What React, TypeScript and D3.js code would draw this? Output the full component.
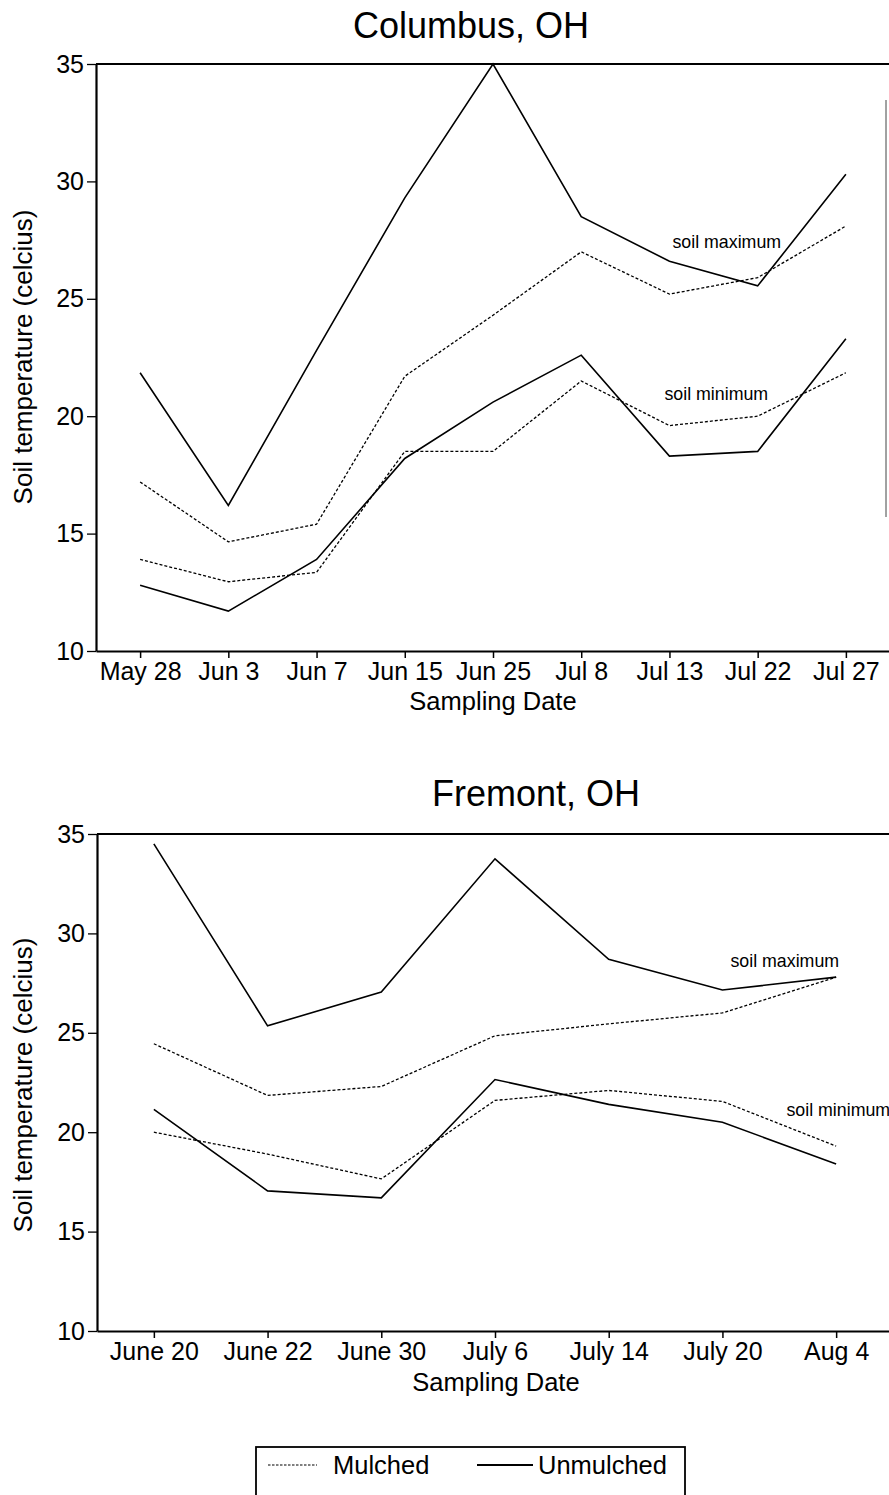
import React, { useEffect, useRef } from 'react';
import * as d3 from 'd3';

const FONT = '"Liberation Sans", Arial, Helvetica, sans-serif';

// Columbus, OH
const columbusDates = ['May 28', 'Jun 3', 'Jun 7', 'Jun 15', 'Jun 25', 'Jul 8', 'Jul 13', 'Jul 22', 'Jul 27'];
const columbusMulchedMax = [17.2, 14.65, 15.4, 21.7, 24.3, 27.0, 25.2, 25.9, 28.1];
const columbusUnmulchedMax = [21.85, 16.2, 22.8, 29.3, 35.0, 28.5, 26.6, 25.55, 30.3];
const columbusMulchedMin = [13.9, 12.95, 13.35, 18.5, 18.5, 21.5, 19.6, 20.0, 21.85];
const columbusUnmulchedMin = [12.8, 11.7, 13.9, 18.2, 20.6, 22.6, 18.3, 18.5, 23.3];

// Fremont, OH
const fremontDates = ['June 20', 'June 22', 'June 30', 'July 6', 'July 14', 'July 20', 'Aug 4'];
const fremontMulchedMax = [24.45, 21.85, 22.3, 24.85, 25.45, 26.0, 27.8];
const fremontUnmulchedMax = [34.5, 25.35, 27.05, 33.75, 28.7, 27.15, 27.8];
const fremontMulchedMin = [20.0, 18.9, 17.65, 21.6, 22.1, 21.55, 19.3];
const fremontUnmulchedMin = [21.15, 17.05, 16.7, 22.65, 21.4, 20.5, 18.4];

const yTicks = [10, 15, 20, 25, 30, 35];
const yDomain = [10, 35];
const legendLabels = ['Mulched', 'Unmulched'];

type Panel = {
  title: string;
  titleX: number;
  titleY: number;
  dates: string[];
  mulched: number[][];
  unmulched: number[][];
  left: number;
  right: number;
  top: number;
  bottom: number;
  xTitleX: number;
  xTitleY: number;
  yTitleY: number;
  tickPad: number;
  maxLabel: { date: string; dx: number; v: number };
  minLabel: { date: string; dx: number; v: number };
};

const panels: Panel[] = [
  {
    title: 'Columbus, OH', titleX: 471, titleY: 38,
    dates: columbusDates,
    mulched: [columbusMulchedMax, columbusMulchedMin],
    unmulched: [columbusUnmulchedMax, columbusUnmulchedMin],
    left: 96, right: 890, top: 64, bottom: 651,
    xTitleX: 493, xTitleY: 710, yTitleY: 357, tickPad: 4,
    maxLabel: { date: 'Jul 13', dx: 3, v: 27.16 },
    minLabel: { date: 'Jul 13', dx: -5, v: 20.69 },
  },
  {
    title: 'Fremont, OH', titleX: 536, titleY: 806,
    dates: fremontDates,
    mulched: [fremontMulchedMax, fremontMulchedMin],
    unmulched: [fremontUnmulchedMax, fremontUnmulchedMin],
    left: 97, right: 893, top: 834, bottom: 1331,
    xTitleX: 496, xTitleY: 1391, yTitleY: 1085, tickPad: 4,
    maxLabel: { date: 'July 20', dx: 8, v: 28.31 },
    minLabel: { date: 'July 20', dx: 64, v: 20.81 },
  },
];

function drawPanel(svg: d3.Selection<SVGSVGElement, unknown, null, undefined>, p: Panel) {
  const x = d3.scalePoint<string>().domain(p.dates).range([p.left, p.right]).padding(0.5);
  const y = d3.scaleLinear().domain(yDomain).range([p.bottom, p.top]);
  const g = svg.append('g');

  // title
  g.append('text')
    .attr('x', p.titleX).attr('y', p.titleY)
    .attr('text-anchor', 'middle')
    .attr('font-family', FONT).attr('font-size', 36)
    .text(p.title);

  // top frame line
  g.append('line')
    .attr('x1', p.left).attr('x2', 889)
    .attr('y1', p.top).attr('y2', p.top)
    .attr('stroke', '#000').attr('stroke-width', 2);

  // y axis
  const ya = g.append('g')
    .attr('transform', `translate(${p.left},0)`)
    .call(d3.axisLeft(y).tickValues(yTicks).tickSize(9).tickSizeOuter(0).tickPadding(3).tickFormat(d3.format('d')));
  ya.attr('font-family', FONT).attr('font-size', 25);
  ya.select('.domain').attr('stroke-width', 2.2);
  ya.selectAll('.tick line').attr('stroke-width', 1.3);

  // x axis
  const xa = g.append('g')
    .attr('transform', `translate(0,${p.bottom})`)
    .call(d3.axisBottom(x).tickSize(7).tickSizeOuter(0).tickPadding(p.tickPad));
  xa.attr('font-family', FONT).attr('font-size', 25);
  xa.select('.domain').attr('stroke-width', 2.2);
  xa.selectAll('.tick line').attr('stroke-width', 1.5);

  // axis titles
  g.append('text')
    .attr('x', p.xTitleX).attr('y', p.xTitleY)
    .attr('text-anchor', 'middle')
    .attr('font-family', FONT).attr('font-size', 25.5)
    .text('Sampling Date');
  g.append('text')
    .attr('transform', `translate(32,${p.yTitleY}) rotate(-90)`)
    .attr('text-anchor', 'middle')
    .attr('font-family', FONT).attr('font-size', 26)
    .text('Soil temperature (celcius)');

  const line = d3.line<number>()
    .x((_, i) => x(p.dates[i]) as number)
    .y((d) => y(d));

  p.mulched.forEach((s) => {
    g.append('path').attr('d', line(s) as string)
      .attr('fill', 'none').attr('stroke', '#000')
      .attr('stroke-width', 1.3).attr('stroke-dasharray', '3 2');
  });
  p.unmulched.forEach((s) => {
    g.append('path').attr('d', line(s) as string)
      .attr('fill', 'none').attr('stroke', '#000')
      .attr('stroke-width', 1.6).attr('stroke-linejoin', 'miter');
  });

  g.append('text')
    .attr('x', (x(p.maxLabel.date) as number) + p.maxLabel.dx)
    .attr('y', y(p.maxLabel.v))
    .attr('font-family', FONT).attr('font-size', 17.8)
    .text('soil maximum');
  g.append('text')
    .attr('x', (x(p.minLabel.date) as number) + p.minLabel.dx)
    .attr('y', y(p.minLabel.v))
    .attr('font-family', FONT).attr('font-size', 17.8)
    .text('soil minimum');
}

export default function App() {
  const ref = useRef<SVGSVGElement>(null);
  useEffect(() => {
    const svg = d3.select(ref.current as SVGSVGElement);
    svg.selectAll('*').remove();
    svg.append('rect').attr('width', 889).attr('height', 1495).attr('fill', '#fff');

    panels.forEach((p) => drawPanel(svg, p));

    // faint right border segment in top panel
    svg.append('line')
      .attr('x1', 886).attr('x2', 886).attr('y1', 100).attr('y2', 517)
      .attr('stroke', '#444').attr('stroke-width', 1);

    // legend
    const lg = svg.append('g');
    lg.append('rect')
      .attr('x', 256).attr('y', 1447).attr('width', 429).attr('height', 80)
      .attr('fill', 'none').attr('stroke', '#000').attr('stroke-width', 1.8);
    lg.append('line')
      .attr('x1', 268).attr('x2', 317).attr('y1', 1465).attr('y2', 1465)
      .attr('stroke', '#000').attr('stroke-width', 1.2).attr('stroke-dasharray', '2.5 1.5');
    lg.append('text')
      .attr('x', 333).attr('y', 1474)
      .attr('font-family', FONT).attr('font-size', 25.5)
      .text(legendLabels[0]);
    lg.append('line')
      .attr('x1', 477).attr('x2', 533).attr('y1', 1465).attr('y2', 1465)
      .attr('stroke', '#000').attr('stroke-width', 1.8);
    lg.append('text')
      .attr('x', 538).attr('y', 1474)
      .attr('font-family', FONT).attr('font-size', 25.5)
      .text(legendLabels[1]);
  }, []);

  return (
    <svg
      ref={ref}
      width={889}
      height={1495}
      style={{ position: 'absolute', left: 0, top: 0, display: 'block' }}
    />
  );
}
